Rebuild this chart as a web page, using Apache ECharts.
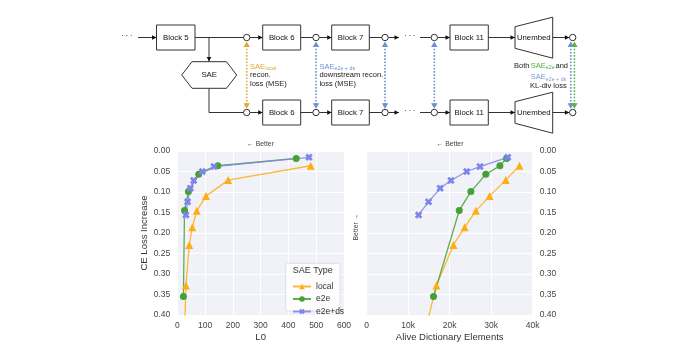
<!DOCTYPE html>
<html>
<head>
<meta charset="utf-8">
<script src="https://cdn.jsdelivr.net/npm/echarts@6/dist/echarts.min.js"></script>
<style>
  html, body { margin: 0; padding: 0; background: #fff; }
  #chart { width: 700px; height: 350px; }
</style>
</head>
<body>
<div id="chart"></div>
<script>
  // CE loss increase, shared by both panels (same SAE runs)
  var localCE = [0.036, 0.071, 0.110, 0.146, 0.186, 0.229, 0.328, 0.47];
  var e2eCE = [0.018, 0.036, 0.057, 0.099, 0.145, 0.355];
  var dsCE = [0.0154, 0.038, 0.050, 0.072, 0.091, 0.124, 0.156];

  // L0 per run
  var localL0 = [480, 183, 103, 70, 54, 43, 31, 25];
  var e2eL0 = [428, 146, 77, 40, 26, 22];
  var dsL0 = [474, 132, 90, 59, 47, 37, 31];

  // alive dictionary elements per run
  var localAlive = [36800, 33500, 29600, 26300, 23600, 20900, 16800, 13300];
  var e2eAlive = [33700, 32100, 28700, 25100, 22300, 16100];
  var dsAlive = [34000, 27300, 24100, 20300, 17700, 14900, 12500];

  var xTicksL0 = [0, 600, 100];
  var xTicksAlive = [0, 40000, 10000];
  var yTicksCE = [0, 0.4, 0.05];

  var FONT = 'Liberation Sans';
  var ORANGE = '#ffad14';
  var GREEN = '#45a035';
  var BLUE = '#7f84e8';
  var LINE = '#333';

  function pairs(xs, ys) {
    return xs.map(function (x, i) { return [x, ys[i]]; });
  }

  // thick filled "X" marker
  var xSymbol = 'path://M0,2.6 L2.6,0 L5,2.4 L7.4,0 L10,2.6 L7.6,5 L10,7.4 L7.4,10 L5,7.6 L2.6,10 L0,7.4 L2.4,5 Z';

  // ---- diagram helpers ----
  var g = [];
  function ln(x1, y1, x2, y2) {
    g.push({ type: 'line', shape: { x1: x1, y1: y1, x2: x2, y2: y2 }, style: { stroke: LINE, lineWidth: 1 } });
  }
  function headR(x, y) {
    g.push({ type: 'polygon', shape: { points: [[x, y], [x - 4.5, y - 2.3], [x - 4.5, y + 2.3]] }, style: { fill: '#111' } });
  }
  function headD(x, y) {
    g.push({ type: 'polygon', shape: { points: [[x, y], [x - 2.3, y - 4.5], [x + 2.3, y - 4.5]] }, style: { fill: '#111' } });
  }
  function arrow(x1, x2, y) { ln(x1, y, x2, y); headR(x2, y); }
  function box(x1, x2, y, label) {
    g.push({ type: 'rect', shape: { x: x1, y: y - 12.5, width: x2 - x1, height: 25 }, style: { fill: '#fff', stroke: LINE, lineWidth: 1 } });
    txt((x1 + x2) / 2, y, label, 7.8, '#111', 'center');
  }
  function node(x, y) {
    g.push({ type: 'circle', shape: { cx: x, cy: y, r: 3.2 }, style: { fill: '#fff', stroke: LINE, lineWidth: 1 }, z: 10 });
  }
  function txt(x, y, s, size, color, align) {
    g.push({ type: 'text', x: x, y: y, style: { text: s, fontSize: size, fontFamily: FONT, fill: color, align: align || 'left', verticalAlign: 'middle' }, z: 12 });
  }
  function unembed(cy) {
    g.push({ type: 'polygon', shape: { points: [[515, cy - 10.8], [552.7, cy - 20.3], [552.7, cy + 20.7], [515, cy + 10.8]] }, style: { fill: '#fff', stroke: LINE, lineWidth: 1 } });
    txt(533.8, cy, 'Unembed', 7.8, '#111', 'center');
  }
  function dotted(x, color) {
    var t = 41.5, b = 108.7;
    g.push({ type: 'line', shape: { x1: x, y1: t + 4, x2: x, y2: b - 4 }, style: { stroke: color, lineWidth: 1.6, lineDash: [1.6, 1.6] }, z: 11 });
    g.push({ type: 'polygon', shape: { points: [[x, t], [x - 3.2, t + 5.5], [x + 3.2, t + 5.5]] }, style: { fill: color }, z: 11 });
    g.push({ type: 'polygon', shape: { points: [[x, b], [x - 3.2, b - 5.5], [x + 3.2, b - 5.5]] }, style: { fill: color }, z: 11 });
  }

  var yT = 37.5, yB = 112.5;

  // top row
  txt(127, yT - 1, '· · ·', 7, '#111', 'center');
  arrow(138, 156.5, yT);
  box(156.5, 195, yT, 'Block 5');
  ln(195, yT, 244, yT);
  ln(209, yT, 209, 61.5); headD(209, 61.5);
  g.push({ type: 'polygon', shape: { points: [[181.7, 75], [192, 61.7], [226.5, 61.7], [236.7, 75], [226.5, 88.3], [192, 88.3]] }, style: { fill: '#fff', stroke: LINE, lineWidth: 1 } });
  txt(209.2, 75, 'SAE', 7.8, '#111', 'center');
  ln(209, 88.3, 209, yB); ln(209, yB, 244, yB);

  [yT, yB].forEach(function (y) {
    node(246.7, y);
    arrow(250, 262.7, y);
    box(262.7, 300.7, y, 'Block 6');
    ln(300.7, y, 313, y);
    node(316, y);
    arrow(319.3, 331.7, y);
    box(331.7, 369.3, y, 'Block 7');
    ln(369.3, y, 382, y);
    node(385, y);
    arrow(388.3, 399, y);
    txt(410, y - 1, '· · ·', 7, '#111', 'center');
    ln(420, y, 431, y);
    node(434.3, y);
    arrow(437.6, 450, y);
    box(450, 488.3, y, 'Block 11');
    arrow(488.3, 515, y);
    unembed(y);
    arrow(552.7, 569.4, y);
    node(572.7, y);
  });

  dotted(246.7, '#deaa33');
  dotted(316, '#6e8fd0');
  dotted(385, '#6e8fd0');
  dotted(434.3, '#6e8fd0');
  dotted(570.8, '#6e8fd0');
  dotted(574.4, '#5fb04e');

  // loss labels
  txt(250, 66.7, 'SAE', 7.5, '#deaa33');
  txt(265.2, 69, 'local', 5.3, '#deaa33');
  txt(250, 75.2, 'recon.', 7.5, '#222');
  txt(250, 83.6, 'loss (MSE)', 7.5, '#222');

  txt(319.4, 66.7, 'SAE', 7.5, '#6e8fd0');
  txt(334.6, 69, 'e2e + ds', 5.3, '#6e8fd0');
  txt(319.4, 75.2, 'downstream recon.', 7.5, '#222');
  txt(319.4, 83.6, 'loss (MSE)', 7.5, '#222');

  txt(514, 65.7, 'Both', 7.5, '#222');
  txt(530.7, 65.7, 'SAE', 7.5, '#4fae3c');
  txt(545.8, 68, 'e2e', 5.3, '#4fae3c');
  txt(555.5, 65.7, 'and', 7.5, '#222');
  txt(530.7, 77.3, 'SAE', 7.5, '#7f96dc');
  txt(545.8, 79.6, 'e2e + ds', 5.3, '#7f96dc');
  txt(566.7, 85.6, 'KL-div loss', 7.5, '#222', 'right');

  // chart annotations
  txt(260.5, 144, '← Better', 6.8, '#444', 'center');
  txt(450, 144, '← Better', 6.8, '#444', 'center');
  g.push({ type: 'text', x: 355.8, y: 227, rotation: Math.PI / 2, style: { text: 'Better →', fontSize: 6.8, fontFamily: FONT, fill: '#444', align: 'center', verticalAlign: 'middle' }, z: 12 });

  // legend frame
  g.push({ type: 'rect', shape: { x: 285.7, y: 263.3, width: 54.5, height: 47.7, r: 2.5 }, style: { fill: 'rgba(255,255,255,0.85)', stroke: '#d8d8e0', lineWidth: 0.8 }, z: 20 });
  g.push({ type: 'text', x: 312.8, y: 271, style: { text: 'SAE Type', fontSize: 9, fontFamily: FONT, fill: '#333', align: 'center', verticalAlign: 'middle' }, z: 21 });

  function valueAxis(grid, ticks, fmt, nameText, nameGap) {
    return {
      type: 'value', gridIndex: grid, min: ticks[0], max: ticks[1], interval: ticks[2],
      axisLine: { show: false }, axisTick: { show: false },
      splitLine: { lineStyle: { color: '#fff', width: 1 } },
      axisLabel: { color: '#444', fontSize: 8.5, fontFamily: FONT, margin: 6, formatter: fmt },
      name: nameText, nameLocation: 'middle', nameGap: nameGap,
      nameTextStyle: { color: '#333', fontSize: 9.5, fontFamily: FONT }
    };
  }
  function ceAxis(grid, pos) {
    return {
      type: 'value', gridIndex: grid, position: pos, inverse: true,
      min: yTicksCE[0], max: yTicksCE[1], interval: yTicksCE[2],
      axisLine: { show: false }, axisTick: { show: false },
      splitLine: { lineStyle: { color: '#fff', width: 1 } },
      axisLabel: { color: '#444', fontSize: 8.5, fontFamily: FONT, margin: 7, formatter: function (v) { return v.toFixed(2); } },
      name: pos === 'left' ? 'CE Loss Increase' : '', nameLocation: 'middle', nameGap: 22,
      nameTextStyle: { color: '#333', fontSize: 9.5, fontFamily: FONT }
    };
  }
  function line(name, xi, data, color, symbol, size) {
    return {
      name: name, type: 'line', xAxisIndex: xi, yAxisIndex: xi, data: data,
      symbol: symbol, symbolSize: size, clip: true, animation: false,
      lineStyle: { color: color, width: 1.3, opacity: 0.85 },
      itemStyle: { color: color, borderWidth: 0 }
    };
  }

  var chart = echarts.init(document.getElementById('chart'));
  chart.setOption({
    animation: false,
    backgroundColor: '#fff',
    grid: [
      { left: 177.3, top: 151, width: 166.7, height: 164, show: true, backgroundColor: '#f1f2f8', borderWidth: 0 },
      { left: 366.7, top: 151, width: 166, height: 164, show: true, backgroundColor: '#f1f2f8', borderWidth: 0 }
    ],
    xAxis: [
      valueAxis(0, xTicksL0, null, 'L0', 17),
      valueAxis(1, xTicksAlive, function (v) { return v === 0 ? '0' : (v / 1000) + 'k'; }, 'Alive Dictionary Elements', 17)
    ],
    yAxis: [ceAxis(0, 'left'), ceAxis(1, 'right')],
    legend: {
      orient: 'vertical', left: 287, top: 277, z: 30,
      itemWidth: 18, itemHeight: 7, itemGap: 3.5,
      textStyle: { color: '#333', fontSize: 8.5, fontFamily: FONT },
      data: ['local', 'e2e', 'e2e+ds']
    },
    graphic: { elements: g },
    series: [
      line('local', 0, pairs(localL0, localCE), ORANGE, 'triangle', 8),
      line('e2e', 0, pairs(e2eL0, e2eCE), GREEN, 'circle', 7),
      line('e2e+ds', 0, pairs(dsL0, dsCE), BLUE, xSymbol, 7.5),
      line('local', 1, pairs(localAlive, localCE), ORANGE, 'triangle', 8),
      line('e2e', 1, pairs(e2eAlive, e2eCE), GREEN, 'circle', 7),
      line('e2e+ds', 1, pairs(dsAlive, dsCE), BLUE, xSymbol, 7.5)
    ]
  });
</script>
</body>
</html>
